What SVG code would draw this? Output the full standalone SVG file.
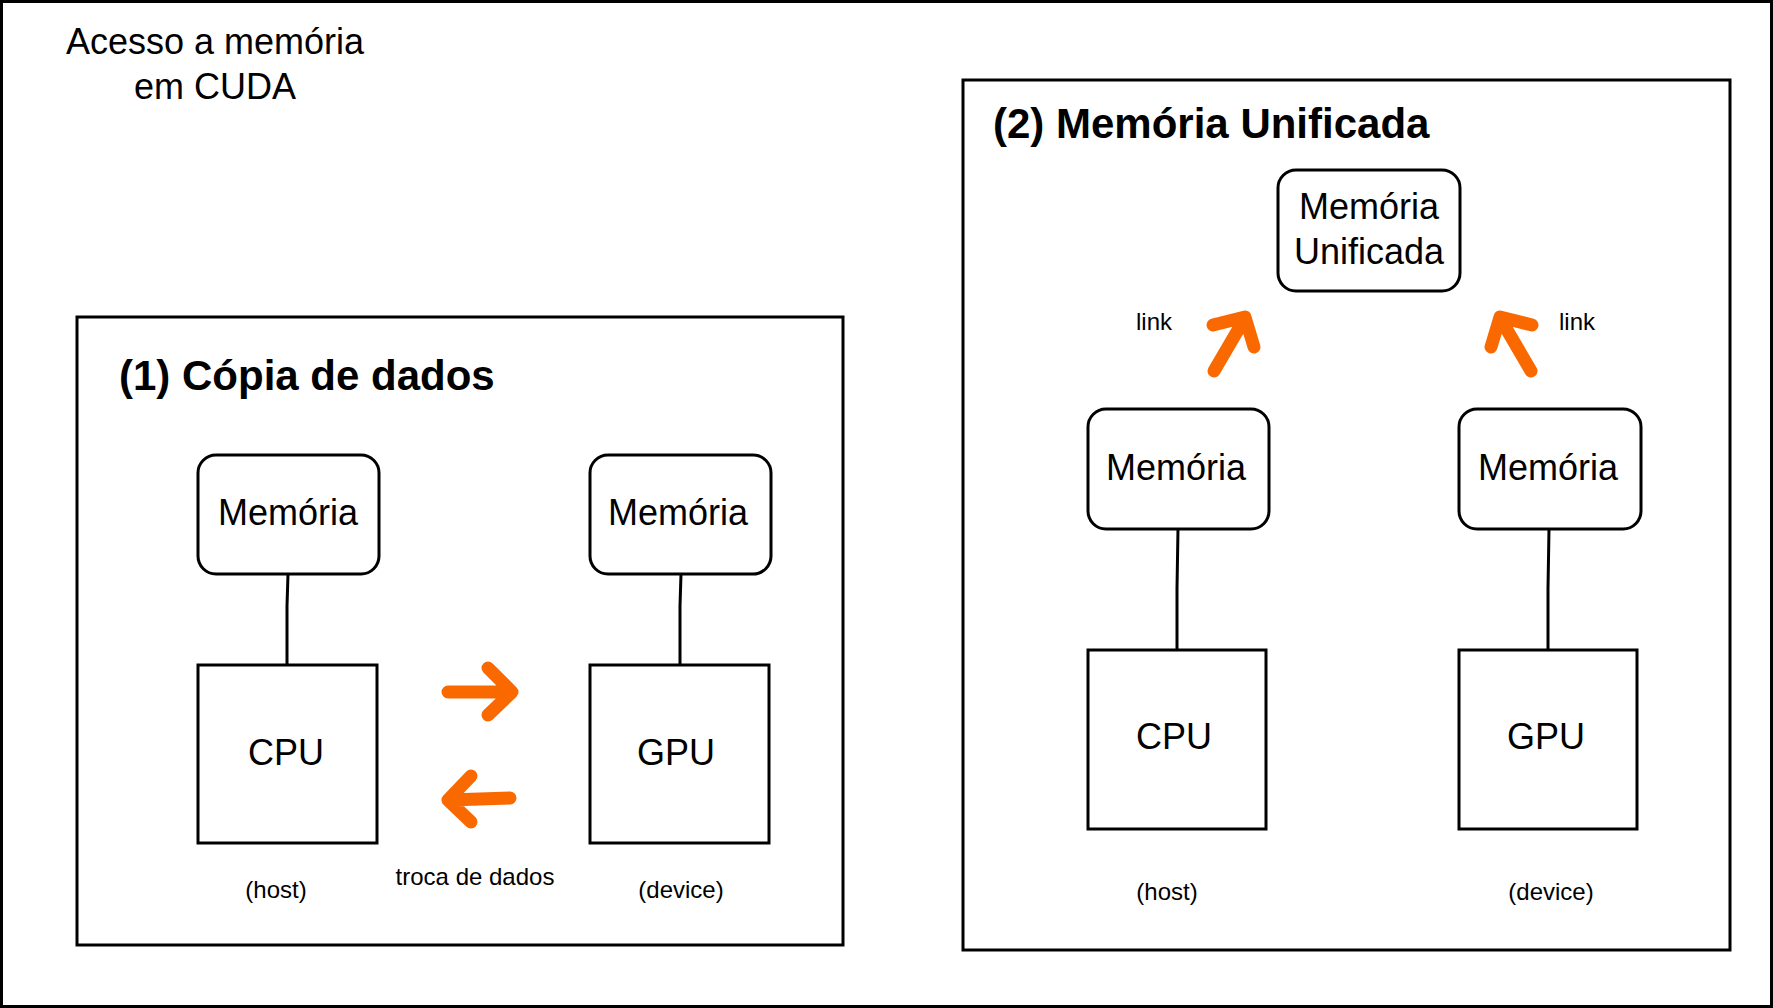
<svg xmlns="http://www.w3.org/2000/svg" width="1773" height="1008" viewBox="0 0 1773 1008">
<style>
.frame{fill:#fff;stroke:#000;stroke-width:3}
.node{fill:#fff;stroke:#000;stroke-width:3}
.t{font-family:"Liberation Sans",Arial,sans-serif;fill:#000;text-anchor:middle;dominant-baseline:central}
.big{font-size:36px}
.small{font-size:24px}
.head{font-size:42px;font-weight:bold;text-anchor:start}
.line{fill:none;stroke:#000;stroke-width:3}
.arr{fill:none;stroke:#FA6800;stroke-width:13;stroke-linecap:round;stroke-linejoin:round}
</style>
<rect x="1.5" y="1.5" width="1770" height="1005" class="frame"/>
<text class="t big" x="215" y="41">Acesso a memória</text>
<text class="t big" x="215" y="86">em CUDA</text>

<g id="box1">
<rect x="77" y="317" width="766" height="628" class="frame"/>
<text class="t head" x="119" y="375">(1) Cópia de dados</text>
</g>
<g id="box2">
<rect x="963" y="80" width="767" height="870" class="frame"/>
<text class="t head" x="993" y="123">(2) Memória Unificada</text>
</g>

<g id="connectors">
<path class="line" d="M288 574 L287 606 L287 665"/>
<path class="line" d="M681 574 L680 606 L680 665"/>
<path class="line" d="M1178 529 L1177 588 L1177 650"/>
<path class="line" d="M1549 529 L1548 588 L1548 650"/>
<path class="arr" d="M448 692 L512 692 M488 668 L512 692 L488 715"/>
<path class="arr" d="M510 798 L449 800 M471 776 L448 800 L471 822"/>
<path class="arr" d="M1214 371 L1245 318 M1213 325 L1245 317 L1254 347"/>
<path class="arr" d="M1531 371 L1500 318 M1532 325 L1500 317 L1491 347"/>
</g>

<g id="mem-cpu1"><rect x="198" y="455" width="181" height="119" rx="18" class="node"/><text class="t big" x="288" y="512">Memória</text></g>
<g id="mem-gpu1"><rect x="590" y="455" width="181" height="119" rx="18" class="node"/><text class="t big" x="678" y="512">Memória</text></g>
<g id="cpu1"><rect x="198" y="665" width="179" height="178" class="node"/><text class="t big" x="286" y="752">CPU</text></g>
<g id="gpu1"><rect x="590" y="665" width="179" height="178" class="node"/><text class="t big" x="676" y="752">GPU</text></g>
<text class="t small" x="276" y="889">(host)</text>
<text class="t small" x="475" y="876">troca de dados</text>
<text class="t small" x="681" y="889">(device)</text>

<g id="mem-unified"><rect x="1278" y="170" width="182" height="121" rx="18" class="node"/><text class="t big" x="1369" y="206">Memória</text><text class="t big" x="1369" y="251">Unificada</text></g>
<g id="mem-cpu2"><rect x="1088" y="409" width="181" height="120" rx="18" class="node"/><text class="t big" x="1176" y="467">Memória</text></g>
<g id="mem-gpu2"><rect x="1459" y="409" width="182" height="120" rx="18" class="node"/><text class="t big" x="1548" y="467">Memória</text></g>
<g id="cpu2"><rect x="1088" y="650" width="178" height="179" class="node"/><text class="t big" x="1174" y="736">CPU</text></g>
<g id="gpu2"><rect x="1459" y="650" width="178" height="179" class="node"/><text class="t big" x="1546" y="736">GPU</text></g>
<text class="t small" x="1154" y="321">link</text>
<text class="t small" x="1577" y="321">link</text>
<text class="t small" x="1167" y="891">(host)</text>
<text class="t small" x="1551" y="891">(device)</text>
</svg>
